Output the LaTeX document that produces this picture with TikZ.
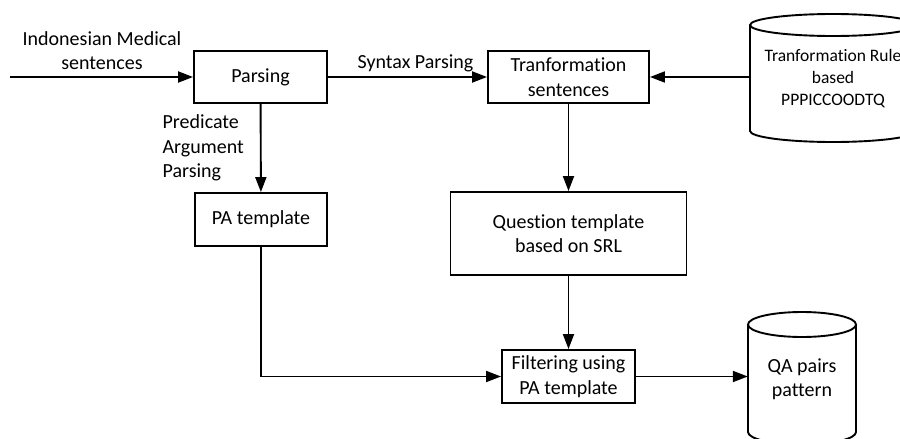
\documentclass[tikz,border=0pt]{standalone}
\usepackage{fontspec}
\setmainfont{Carlito}[Ligatures=NoCommon]
\usetikzlibrary{arrows.meta,positioning,calc}

\begin{document}
\begin{tikzpicture}[x=1pt,y=1pt,>={Triangle[length=15pt,width=11pt]},
font=\fontsize{20}{24.5}\selectfont,
box/.style={draw,line width=1.9pt,align=center,inner sep=0pt},
flow/.style={->,line width=1.9pt},
dbtext/.style={align=center,inner sep=0pt},
db/.style={line width=1.9pt}]
\useasboundingbox (0,0) rectangle (900,-439);
% process boxes
\node[box,minimum width=133,minimum height=52] (parse) at (260.5,-77) {Parsing};
\node[box,minimum width=161,minimum height=52] (trans) at (568.5,-77) {Tranformation\\sentences};
\node[box,minimum width=132,minimum height=53] (patmpl) at (261,-219.5) {PA template};
\node[box,minimum width=236,minimum height=83] (qtmpl) at (568.5,-233.5) {Question template\\based on SRL};
\node[box,minimum width=133,minimum height=53] (filter) at (568.5,-376.5) {Filtering using\\PA template};
% data stores
\draw[db] (833,-25) ellipse (83 and 11);
\draw[db] (750,-25) -- (750,-131) arc[start angle=180,end angle=360,x radius=83,y radius=11] -- (916,-25);
\node[dbtext,minimum width=166,font=\fontsize{17.5}{22}\selectfont] (rules) at (833,-78.5)
 {Tranformation Rule\\based\\PPPICCOODTQ};
\draw[db] (802,-324.5) ellipse (54 and 12.5);
\draw[db] (748,-324.5) -- (748,-432) arc[start angle=180,end angle=360,x radius=54,y radius=12.5] -- (856,-324.5);
\node[dbtext,minimum width=108] (qapairs) at (802,-379) {QA pairs\\pattern};
% input
\coordinate (src) at (10,-77);
\node[dbtext] (inlabel) at (102,-50.5) {Indonesian Medical\\sentences};
% connectors
\draw[flow] (src) -- (parse);
\draw[flow] (parse) -- node[above=1pt,xshift=8pt] (synlabel) {Syntax Parsing} (trans);
\draw[flow] (rules.west |- trans.east) -- (trans.east);
\draw[flow] (parse) -- node[left=16pt,align=left,inner sep=0pt] (palabel) {Predicate\\Argument\\Parsing} (patmpl);
\draw[flow] (trans) -- (qtmpl);
\draw[flow] (qtmpl) -- (filter);
\draw[flow] (patmpl.south) |- (filter.west);
\draw[flow] (filter) -- (filter -| qapairs.west);
\end{tikzpicture}
\end{document}
